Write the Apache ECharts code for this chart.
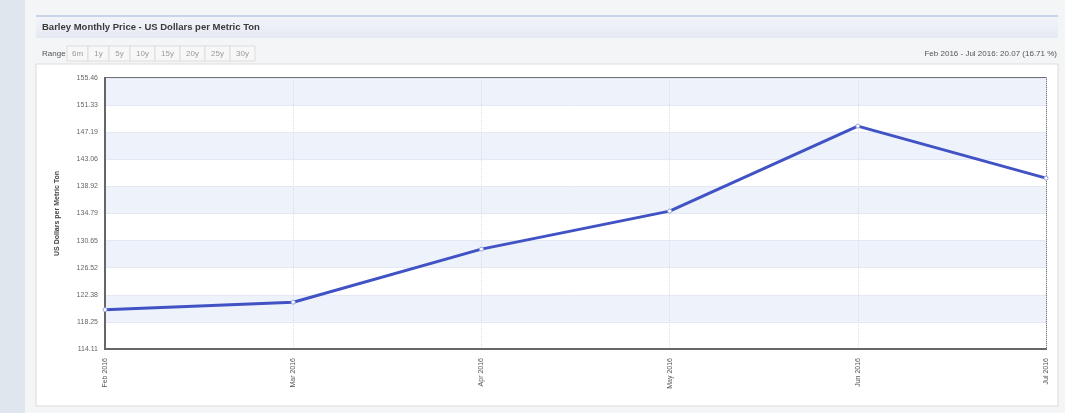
<!DOCTYPE html>
<html>
<head>
<meta charset="utf-8">
<script src="https://cdn.jsdelivr.net/npm/echarts@6/dist/echarts.min.js"></script>
<style>
html,body{margin:0;padding:0;background:#dfe6ed;}
#c{width:1065px;height:413px;}
</style>
</head>
<body>
<div id="c"></div>
<script>
const categories = ['Feb 2016', 'Mar 2016', 'Apr 2016', 'May 2016', 'Jun 2016', 'Jul 2016'];
const prices = [120.11, 121.25, 129.35, 135.15, 148.12, 140.18];
const yTicks = [114.11, 118.25, 122.38, 126.52, 130.65, 134.79, 138.92, 143.06, 147.19, 151.33, 155.46];
const rangeButtons = ['6m', '1y', '5y', '10y', '15y', '20y', '25y', '30y'];
const titleText = 'Barley Monthly Price - US Dollars per Metric Ton';
const summaryText = 'Feb 2016 - Jul 2016: 20.07 (16.71 %)';
const yAxisName = 'US Dollars per Metric Ton';

const chart = echarts.init(document.getElementById('c'));
const FONT = 'Liberation Sans, Arial, sans-serif';

const graphics = [
  {type:'rect', shape:{x:25,y:0,width:1040,height:413}, style:{fill:'#f4f5f7'}, silent:true, z:-10},
  {type:'rect', shape:{x:36,y:16,width:1022,height:22}, style:{fill:new echarts.graphic.LinearGradient(0,0,0,1,[{offset:0,color:'#f3f5fa'},{offset:1,color:'#e5e9f2'}])}, silent:true, z:-9},
  {type:'line', shape:{x1:36,y1:16,x2:1058,y2:16}, style:{stroke:'#9fb0dc',lineWidth:1}, silent:true, z:-8},
  {type:'text', x:42, y:27, style:{text:titleText, font:'bold 9.5px '+FONT, fill:'#3a3a3a', verticalAlign:'middle'}, silent:true},
  {type:'rect', shape:{x:36,y:64,width:1022,height:342}, style:{fill:'#ffffff', stroke:'#dcdcdc', lineWidth:1}, silent:true, z:-9},
  {type:'text', x:42, y:54, style:{text:'Range', font:'8px '+FONT, fill:'#555', verticalAlign:'middle'}, silent:true},
  {type:'text', x:1057, y:54, style:{text:summaryText, font:'8px '+FONT, fill:'#555', align:'right', verticalAlign:'middle'}, silent:true}
];
let bx = 67;
rangeButtons.forEach(function(b){
  const w = b.length > 2 ? 25 : 21;
  graphics.push({type:'rect', shape:{x:bx,y:46,width:w,height:15}, style:{fill:'#f7f7f7', stroke:'#dddddd', lineWidth:1}, silent:true});
  graphics.push({type:'text', x:bx+w/2, y:54, style:{text:b, font:'8px '+FONT, fill:'#9a9a9a', align:'center', verticalAlign:'middle'}, silent:true});
  bx += w;
});

chart.setOption({
  animation:false,
  backgroundColor:'#dfe6ed',
  graphic: graphics,
  grid:{left:105, right:19, top:78, bottom:64, show:true, borderColor:'#444', borderWidth:1.5, backgroundColor:'transparent'},
  xAxis:{
    type:'category', data:categories, boundaryGap:false,
    axisLine:{lineStyle:{color:'#666', width:2}},
    axisTick:{show:false},
    axisLabel:{rotate:90, fontSize:7, color:'#555', fontFamily:FONT, margin:9},
    splitLine:{show:true, lineStyle:{color:'#d8dde6', type:'dotted', width:1}}
  },
  yAxis:{
    type:'value', min:yTicks[0], max:yTicks[yTicks.length-1],
    name:yAxisName, nameLocation:'middle', nameGap:44, nameRotate:90,
    nameTextStyle:{fontSize:7, fontWeight:'bold', color:'#444', fontFamily:FONT},
    axisLine:{show:true, lineStyle:{color:'#666', width:2}},
    axisTick:{show:false, customValues:yTicks},
    axisLabel:{customValues:yTicks, fontSize:7, color:'#666', fontFamily:FONT, margin:7, formatter:function(v){return v.toFixed(2);}},
    splitLine:{show:true, lineStyle:{color:'#e3e8f2', width:1}},
    splitArea:{show:true, areaStyle:{color:['#ffffff','#eef2fb']}}
  },
  series:[{
    type:'line', data:prices,
    lineStyle:{color:'#4153c4', width:3},
    itemStyle:{color:'#ffffff', borderColor:'#9aa6de', borderWidth:1},
    symbol:'circle', symbolSize:4, showSymbol:true, z:5
  }]
});
</script>
</body>
</html>
